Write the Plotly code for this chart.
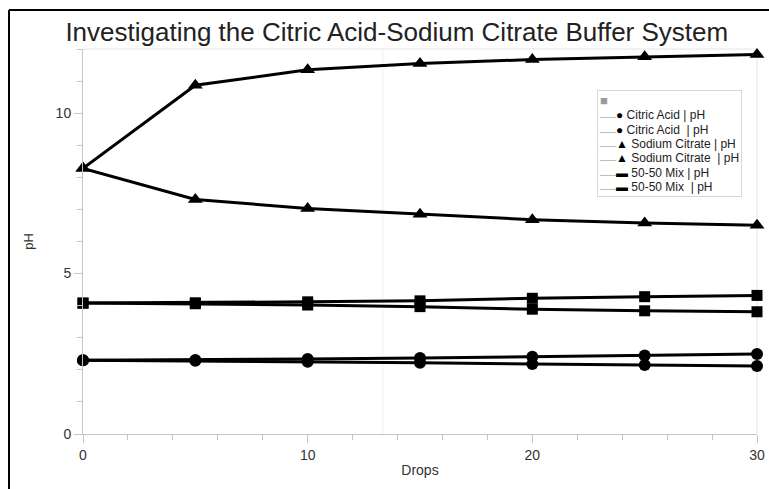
import plotly.graph_objects as go

drops = [0, 5, 10, 15, 20, 25, 30]

citric_up = [2.30, 2.31, 2.34, 2.37, 2.41, 2.45, 2.49]
citric_down = [2.30, 2.28, 2.25, 2.22, 2.18, 2.15, 2.12]
sodium_up = [8.28, 10.87, 11.35, 11.55, 11.67, 11.76, 11.83]
sodium_down = [8.28, 7.31, 7.03, 6.85, 6.68, 6.58, 6.51]
mix_up = [4.08, 4.09, 4.12, 4.15, 4.23, 4.28, 4.32]
mix_down = [4.08, 4.06, 4.02, 3.97, 3.89, 3.84, 3.81]

series_names = ["Citric Acid | pH", "Citric Acid  | pH", "Sodium Citrate | pH",
                "Sodium Citrate  | pH", "50-50 Mix | pH", "50-50 Mix  | pH"]
series_values = [citric_up, citric_down, sodium_up, sodium_down, mix_up, mix_down]
series_symbols = ["circle", "circle", "triangle-up", "triangle-up", "square", "square"]
series_sizes = [12, 12, 13, 13, 11, 11]
legend_glyphs = ["●", "●", "▲", "▲", "▬", "▬"]

FONT = "Arial, Liberation Sans, sans-serif"

fig = go.Figure()
for name, vals, sym, sz in zip(series_names, series_values, series_symbols, series_sizes):
    fig.add_trace(go.Scatter(
        x=drops, y=vals, mode="lines+markers", name=name, showlegend=False,
        line=dict(color="black", width=3),
        marker=dict(symbol=sym, size=sz, color="black"),
        cliponaxis=False,
    ))

# compact legend box (as in the reference: close icon, thin grey line + black glyph + name)
legend_lines = ["<span style='color:#9a9a9a;font-size:13px'>■</span>"]
for name, glyph in zip(series_names, legend_glyphs):
    legend_lines.append(
        "<span style='color:#8a8a8a;font-size:8px'>——</span>"
        f"<span style='color:#000;font-size:12px'>{glyph}</span>"
        f"<span style='font-size:12px'> {name}</span>")
legend_text = "<br>".join(legend_lines)

fig.update_layout(
    width=769, height=489,
    margin=dict(l=83, r=12, t=49, b=55),
    paper_bgcolor="white", plot_bgcolor="white",
    font=dict(family=FONT, color="#333333"),
    title=dict(text="Investigating the Citric Acid-Sodium Citrate Buffer System",
               x=0.516, xanchor="center", y=0.9346, yanchor="middle",
               font=dict(family=FONT, size=26, color="#222222")),
    showlegend=False,
    xaxis=dict(range=[0, 30], tickvals=[0, 10, 20, 30], showgrid=False, zeroline=False,
               automargin=False,
               showline=True, linecolor="#c4c4c4", linewidth=1,
               ticks="outside", ticklen=8, tickcolor="#c4c4c4",
               minor=dict(dtick=2, ticks="outside", ticklen=5, tickcolor="#c4c4c4"),
               tickfont=dict(family=FONT, size=14, color="#333333"),
               ticklabeloverflow="allow",
               title=dict(text="Drops", standoff=3, font=dict(family=FONT, size=14, color="#333333"))),
    yaxis=dict(range=[0, 12], tickvals=[0, 5, 10], showgrid=False, zeroline=False,
               automargin=False,
               showline=True, linecolor="#c4c4c4", linewidth=1,
               ticks="outside", ticklen=8, tickcolor="#c4c4c4",
               minor=dict(dtick=1, ticks="outside", ticklen=5, tickcolor="#c4c4c4"),
               tickfont=dict(family=FONT, size=14, color="#333333"),
               title=dict(text="pH", standoff=19, font=dict(family=FONT, size=13, color="#333333"))),
    annotations=[
        dict(text=legend_text, xref="paper", yref="paper", x=0.7626, y=0.8935,
             xanchor="left", yanchor="top", align="left", showarrow=False,
             font=dict(family=FONT, size=11, color="#222222"),
             bgcolor="white", bordercolor="#d8d8d8", borderwidth=1, borderpad=2),
    ],
    shapes=[
        # light top/right plot frame
        dict(type="line", xref="paper", yref="paper", x0=0, x1=1, y0=1, y1=1,
             line=dict(color="#e4e4e4", width=1), layer="below"),
        dict(type="line", xref="paper", yref="paper", x0=1, x1=1, y0=0, y1=1,
             line=dict(color="#e4e4e4", width=1), layer="below"),
        # faint vertical artefact line
        dict(type="line", xref="paper", yref="paper", x0=0.445, x1=0.445, y0=0, y1=1,
             line=dict(color="#f0f0f0", width=1), layer="below"),
        # black page frame (top and left)
        dict(type="line", xref="paper", yref="paper", x0=-0.1098, x1=1.1, y0=1.1013, y1=1.1013,
             line=dict(color="black", width=2)),
        dict(type="line", xref="paper", yref="paper", x0=-0.1098, x1=-0.1098, y0=-0.2, y1=1.1013,
             line=dict(color="black", width=2)),
    ],
)

fig.write_html("out.html", config={"displayModeBar": False},
               post_script="document.body.style.margin='0';")
